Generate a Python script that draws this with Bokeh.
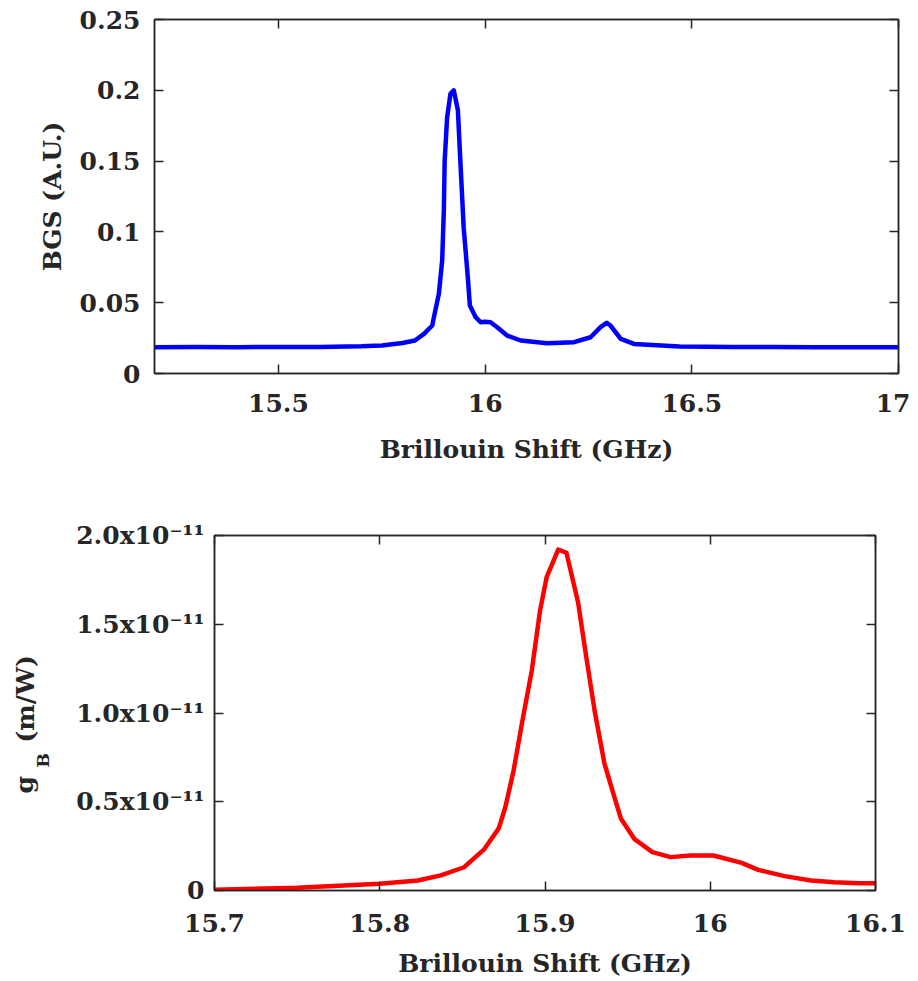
import math
from bokeh.plotting import figure
from bokeh.layouts import row
from bokeh.models import LinearAxis, FixedTicker, Range1d
from bokeh.core.properties import value
from bokeh.embed import file_html
from bokeh.resources import INLINE

# ---------------- data ----------------
# Top panel: Brillouin gain spectrum (A.U.)
bgs_x = [15.20, 15.30, 15.40, 15.50, 15.60, 15.70, 15.75, 15.80, 15.83, 15.852,
         15.872, 15.876, 15.888, 15.896, 15.900, 15.902, 15.908, 15.916, 15.924,
         15.934, 15.940, 15.948, 15.958, 15.963, 15.977, 15.989, 16.000, 16.013,
         16.029, 16.053, 16.086, 16.150, 16.215, 16.255, 16.279, 16.294, 16.303,
         16.328, 16.360, 16.47, 16.60, 16.70, 16.80, 16.90, 17.00]
bgs_y = [0.0186, 0.0187, 0.0186, 0.0187, 0.0188, 0.0192, 0.0198, 0.0215, 0.0233, 0.028,
         0.0339, 0.0398, 0.0563, 0.0798, 0.115, 0.150, 0.181, 0.1975, 0.200,
         0.186, 0.150, 0.103, 0.068, 0.048, 0.0398, 0.0362, 0.0365, 0.0362,
         0.0327, 0.0268, 0.0233, 0.0214, 0.0221, 0.0256, 0.0327, 0.0358, 0.0339,
         0.0245, 0.0209, 0.0190, 0.0188, 0.0187, 0.0186, 0.0186, 0.0186]

# Bottom panel: Brillouin gain coefficient g_B (units of 1e-11 m/W)
gb_x = [15.700, 15.750, 15.800, 15.823, 15.837, 15.851, 15.863, 15.872, 15.876, 15.881,
        15.886, 15.892, 15.897, 15.901, 15.908, 15.913, 15.920, 15.925, 15.930, 15.936,
        15.942, 15.946, 15.954, 15.965, 15.976, 15.988, 16.002, 16.019, 16.029, 16.045,
        16.061, 16.075, 16.090, 16.100]
gb_y = [0.004, 0.015, 0.038, 0.056, 0.085, 0.131, 0.230, 0.350, 0.469, 0.676,
        0.939, 1.239, 1.577, 1.765, 1.921, 1.902, 1.624, 1.314, 1.014, 0.714,
        0.526, 0.404, 0.291, 0.216, 0.188, 0.197, 0.197, 0.156, 0.116, 0.081,
        0.056, 0.047, 0.041, 0.041]

top_xticks = [15.5, 16.0, 16.5, 17.0]
top_xlabels = ["15.5", "16", "16.5", "17"]
top_yticks = [0, 0.05, 0.1, 0.15, 0.2, 0.25]
top_ylabels = ["0", "0.05", "0.1", "0.15", "0.2", "0.25"]

bot_xticks = [15.7, 15.8, 15.9, 16.0, 16.1]
bot_xlabels = ["15.7", "15.8", "15.9", "16", "16.1"]
bot_yticks = [0, 0.5, 1.0, 1.5, 2.0]
bot_ylabels = ["0", "0.5x10\u207b\u00b9\u00b9", "1.0x10\u207b\u00b9\u00b9",
               "1.5x10\u207b\u00b9\u00b9", "2.0x10\u207b\u00b9\u00b9"]

# y-axis title of the bottom panel, split to get the subscript: g_B (m/W)
gb_title_parts = ["g", "B", "(m/W)"]

FONT = "DejaVu Serif"
TXT = "#262626"
TICK_FS = "25px"
LAB_FS = "25px"


def style_axis(ax, ticks, labels, show_labels=True):
    ax.ticker = FixedTicker(ticks=ticks)
    ax.major_label_overrides = {t: l for t, l in zip(ticks, labels)}
    ax.major_tick_in = 9
    ax.major_tick_out = 0
    ax.minor_tick_line_color = None
    ax.axis_line_color = TXT
    ax.axis_line_width = 1.5
    ax.major_tick_line_color = TXT
    ax.major_tick_line_width = 1.5
    ax.major_label_text_font = FONT
    ax.major_label_text_font_style = "bold"
    ax.axis_label_text_font = FONT
    ax.axis_label_text_font_style = "bold"
    ax.axis_label_text_color = TXT
    ax.axis_label_text_font_size = LAB_FS
    if show_labels:
        ax.major_label_text_font_size = TICK_FS
        ax.major_label_text_color = TXT
    else:
        # mirrored box ticks only, labels not drawn
        ax.major_label_text_font_size = "1px"
        ax.major_label_text_color = None
        ax.major_label_standoff = 0


def make_fig(xr, yr, fw, fh, left, right, top, bottom):
    p = figure(x_range=Range1d(*xr), y_range=Range1d(*yr),
               frame_width=fw, frame_height=fh,
               output_backend="svg", toolbar_location=None,
               min_border_left=left, min_border_right=right,
               min_border_top=top, min_border_bottom=bottom,
               background_fill_color="white", border_fill_color="white")
    p.xgrid.visible = False
    p.ygrid.visible = False
    p.outline_line_color = TXT
    p.outline_line_width = 1.5
    return p


# ---------------- top panel ----------------
p1 = make_fig((15.2, 17.0), (0, 0.25), 744, 354, 154, 12, 19, 127)
p1.line(bgs_x, bgs_y, line_color="#0000FF", line_width=4.5, line_join="round")
style_axis(p1.xaxis[0], top_xticks, top_xlabels)
style_axis(p1.yaxis[0], top_yticks, top_ylabels)
p1.xaxis[0].axis_label = "Brillouin Shift (GHz)"
p1.yaxis[0].axis_label = "BGS (A.U.)"
p1.xaxis[0].major_label_standoff = 20
p1.xaxis[0].axis_label_standoff = 20
p1.yaxis[0].major_label_standoff = 14
p1.yaxis[0].axis_label_standoff = 10
ax_t = LinearAxis()
style_axis(ax_t, top_xticks, top_xlabels, show_labels=False)
p1.add_layout(ax_t, "above")
ax_r = LinearAxis()
style_axis(ax_r, top_yticks, top_ylabels, show_labels=False)
p1.add_layout(ax_r, "right")

# ---------------- bottom panel ----------------
TITLE_W = 60
p2 = make_fig((15.7, 16.1), (0, 2.0), 661, 355, 214 - TITLE_W, 35, 35, 88)
p2.line(gb_x, gb_y, line_color="#FF0000", line_width=4.5, line_join="round")
style_axis(p2.xaxis[0], bot_xticks, bot_xlabels)
style_axis(p2.yaxis[0], bot_yticks, bot_ylabels)
p2.xaxis[0].axis_label = "Brillouin Shift (GHz)"
p2.xaxis[0].major_label_standoff = 23
p2.xaxis[0].axis_label_standoff = 14
p2.yaxis[0].major_label_standoff = 10
ax_t2 = LinearAxis()
style_axis(ax_t2, bot_xticks, bot_xlabels, show_labels=False)
p2.add_layout(ax_t2, "above")
ax_r2 = LinearAxis()
style_axis(ax_r2, bot_yticks, bot_ylabels, show_labels=False)
p2.add_layout(ax_r2, "right")

# narrow strip holding the rotated y-axis title with its subscript
pt = figure(x_range=Range1d(0, TITLE_W), y_range=Range1d(0, 355),
            frame_width=TITLE_W, frame_height=355,
            output_backend="svg", toolbar_location=None,
            min_border_left=0, min_border_right=0,
            min_border_top=35, min_border_bottom=88)
pt.axis.visible = False
pt.grid.visible = False
pt.outline_line_color = None
pt.text(x=[24, 25], y=[97, 148], text=[gb_title_parts[0], gb_title_parts[2]],
        angle=math.pi / 2, text_font=value(FONT), text_font_style="bold",
        text_font_size=LAB_FS, text_color=TXT,
        text_align="left", text_baseline="alphabetic")
pt.text(x=[42], y=[123], text=[gb_title_parts[1]],
        angle=math.pi / 2, text_font=value(FONT), text_font_style="bold",
        text_font_size="17px", text_color=TXT,
        text_align="left", text_baseline="alphabetic")

bottom = row(pt, p2)
open("out.html", "w").write(file_html([p1, bottom], INLINE))
